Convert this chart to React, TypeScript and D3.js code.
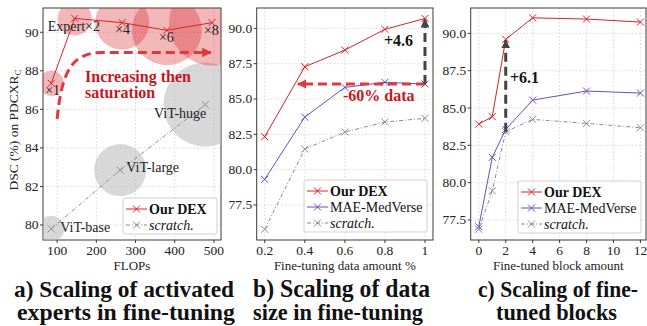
import React from 'react'
import * as d3 from 'd3'

// a) activated experts
const dexFlops = [85, 145, 266, 380, 495]
const dexFlopsDsc = [87.35, 90.72, 90.5, 90.1, 90.5]
const dexBubble = [160, 290, 730, 1220, 1850]
const expertLabels = ['×1', 'Expert×2', '×4', '×6', '×8']
const scratchFlops = [85, 261, 478]
const scratchFlopsDsc = [79.8, 82.85, 86.25]
const scratchBubble = [170, 680, 1760]
const vitLabels = ['ViT-base', 'ViT-large', 'ViT-huge']

// b) data amount
const dataAmount = [0.2, 0.4, 0.6, 0.8, 1]
const dexData = [82.33, 87.28, 88.46, 89.93, 90.7]
const maeData = [79.31, 83.72, 85.82, 86.18, 86.06]
const scratchData = [75.77, 81.46, 82.66, 83.37, 83.63]

// c) fine-tuned blocks
const blocks = [0, 1, 2, 4, 8, 12]
const dexBlocks = [83.92, 84.42, 89.6, 91.04, 90.96, 90.76]
const maeBlocks = [77.05, 81.7, 83.57, 85.53, 86.14, 86.0]
const scratchBlocks = [76.87, 79.46, 83.41, 84.24, 83.97, 83.68]

const ticksAx = [100, 200, 300, 400, 500]
const ticksAy = [80, 82, 84, 86, 88, 90]
const ticksBx = [0.2, 0.4, 0.6, 0.8, 1]
const ticksBy = [77.5, 80, 82.5, 85, 87.5, 90]
const ticksCx = [0, 2, 4, 6, 8, 10, 12]
const ticksCy = [77.5, 80, 82.5, 85, 87.5, 90]

const RED = '#d8232a'
const PURPLE = '#6a4cc4'
const GRAY = '#8c8c8c'
const FONT = '"Liberation Serif", "Times New Roman", serif'

const TOP = 8
const BOTTOM = 240

const xA = d3.scaleLinear().domain([64, 518]).range([43, 221])
const yA = d3.scaleLinear().domain([79.22, 91.26]).range([BOTTOM, TOP])
const xB = d3.scaleLinear().domain([0.16, 1.04]).range([256.7, 433])
const yB = d3.scaleLinear().domain([75.02, 91.44]).range([BOTTOM, TOP])
const xC = d3.scaleLinear().domain([-0.6, 12.6]).range([470.7, 648.5])
const yC = d3.scaleLinear().domain([76.16, 91.7]).range([BOTTOM, TOP])

const rA = d3.scaleSqrt().domain([0, 1850]).range([0, 43])

function Cross({ x, y, color }: { x: number; y: number; color: string }) {
  const s = 3.5
  return (
    <g stroke={color} strokeWidth={1}>
      <line x1={x - s} y1={y - s} x2={x + s} y2={y + s} />
      <line x1={x - s} y1={y + s} x2={x + s} y2={y - s} />
    </g>
  )
}

function Series({ xs, ys, x, y, color, dash }: any) {
  const pts: [number, number][] = xs.map((d: number, i: number) => [x(d), y(ys[i])])
  const path = d3.line()(pts) || ''
  return (
    <g>
      <path d={path} fill="none" stroke={color} strokeWidth={1} strokeDasharray={dash} />
      {pts.map((p, i) => <Cross key={i} x={p[0]} y={p[1]} color={color} />)}
    </g>
  )
}

function Axes({ x, y, xt, yt, xfmt, yfmt, xlabel, right }: any) {
  const [x0, x1r] = x.range()
  const x1 = Math.min(x1r, right || x1r)
  return (
    <g fontFamily={FONT} fontSize={13.5} fill="#222">
      {xt.map((t: number) => (
        <line key={'gx' + t} x1={x(t)} x2={x(t)} y1={TOP} y2={BOTTOM} stroke="#cfcfcf" strokeWidth={0.8} strokeDasharray="1.5,2" />
      ))}
      {yt.map((t: number) => (
        <line key={'gy' + t} x1={x0} x2={x1} y1={y(t)} y2={y(t)} stroke="#cfcfcf" strokeWidth={0.8} strokeDasharray="1.5,2" />
      ))}
      <rect x={x0} y={TOP} width={x1 - x0} height={BOTTOM - TOP} fill="none" stroke="#3a3a3a" strokeWidth={1} />
      {xt.map((t: number) => (
        <g key={'tx' + t}>
          <line x1={x(t)} x2={x(t)} y1={BOTTOM} y2={BOTTOM + 3} stroke="#3a3a3a" />
          <text x={x(t)} y={BOTTOM + 15} textAnchor="middle">{xfmt(t)}</text>
        </g>
      ))}
      {yt.map((t: number) => (
        <g key={'ty' + t}>
          <line x1={x0 - 3} x2={x0} y1={y(t)} y2={y(t)} stroke="#3a3a3a" />
          <text x={x0 - 4.5} y={y(t) + 4.5} textAnchor="end">{yfmt(t)}</text>
        </g>
      ))}
      <text x={(x0 + x1) / 2} y={BOTTOM + 30} textAnchor="middle" fontSize={13}>{xlabel}</text>
    </g>
  )
}

function Legend({ x, y, w, rows }: any) {
  const h = rows.length * 16 + 4
  return (
    <g fontFamily={FONT} fontSize={14}>
      <rect x={x} y={y} width={w} height={h} fill="#fff" fillOpacity={0.85} stroke="#d0d0d0" rx={2} />
      {rows.map((r: any, i: number) => {
        const cy = y + 11 + i * 16
        return (
          <g key={i}>
            <line x1={x + 3} x2={x + 24} y1={cy} y2={cy} stroke={r.color} strokeDasharray={r.dash} />
            <Cross x={x + 13.5} y={cy} color={r.color} />
            <text x={x + 26} y={cy + 4.5} fontWeight={r.bold ? 'bold' : 'normal'} fontStyle={r.italic ? 'italic' : 'normal'} fill="#111">{r.label}</text>
          </g>
        )
      })}
    </g>
  )
}

// captions are tall and narrow in the reference: stretch vertically a little
function Caption({ lines, xs, sizes, widths }: any) {
  const k = 1.06
  return (
    <text transform={`translate(0,296.5) scale(1,${k})`} fontFamily={FONT} fontWeight="bold" fill="#111">
      {lines.map((l: string, i: number) => (
        <tspan key={i} x={xs[i]} y={(i * 24) / k} fontSize={sizes[i]} textLength={widths[i]} lengthAdjust="spacingAndGlyphs">{l}</tspan>
      ))}
    </text>
  )
}

const dexRow = { label: 'Our DEX', color: RED, bold: true }
const maeRow = { label: 'MAE-MedVerse', color: PURPLE }
const scrRow = { label: 'scratch.', color: GRAY, dash: '4,2,1,2', italic: true }

const expertOffsets = [[-6, 12], [-27, 13], [-7, 11], [-8, 12], [-8, 12]]
const vitOffsets = [[9, 3, 'start'], [6, 2, 'start'], [1, 13, 'end']]

export default function App() {
  const fmt1 = (d: number) => d.toFixed(1)
  const fmtInt = (d: number) => String(d)
  return (
    <svg width={647} height={326} style={{ position: 'absolute', left: 0, top: 0, background: '#fff' }}>
      <defs>
        <clipPath id="clipA"><rect x={43} y={TOP} width={178} height={BOTTOM - TOP} /></clipPath>
        <marker id="headRed" viewBox="0 0 10 10" refX={9} refY={5} markerWidth={3.2} markerHeight={3.2} orient="auto" markerUnits="strokeWidth">
          <path d="M0,0 L10,5 L0,10 z" fill="#dd3b3b" />
        </marker>
        <marker id="headGray" viewBox="0 0 10 10" refX={9} refY={5} markerWidth={3} markerHeight={3} orient="auto" markerUnits="strokeWidth">
          <path d="M0,0 L10,5 L0,10 z" fill="#444" />
        </marker>
      </defs>

      {/* panel a */}
      <Axes x={xA} y={yA} xt={ticksAx} yt={ticksAy} xfmt={fmtInt} yfmt={fmtInt} xlabel="FLOPs" />
      <g clipPath="url(#clipA)">
        {scratchFlops.map((d, i) => (
          <circle key={'sb' + i} cx={xA(d)} cy={yA(scratchFlopsDsc[i])} r={rA(scratchBubble[i])} fill="#b8b8b8" fillOpacity={0.55} />
        ))}
        {dexFlops.map((d, i) => (
          <circle key={'db' + i} cx={xA(d)} cy={yA(dexFlopsDsc[i])} r={rA(dexBubble[i])} fill={RED} fillOpacity={0.33} />
        ))}
        <Series xs={scratchFlops} ys={scratchFlopsDsc} x={xA} y={yA} color={GRAY} dash="4,2,1,2" />
        <Series xs={dexFlops} ys={dexFlopsDsc} x={xA} y={yA} color={RED} />
        <path
          d={`M${xA(100)},${yA(85.5)} C${xA(112)},${yA(87.9)} ${xA(135)},${yA(88.95)} ${xA(215)},${yA(88.95)} L${xA(492)},${yA(88.95)}`}
          fill="none" stroke="#dd3b3b" strokeWidth={3} strokeDasharray="9,5" markerEnd="url(#headRed)"
        />
      </g>
      <g fontFamily={FONT} fontSize={14} fill="#222">
        {dexFlops.map((d, i) => (
          <text key={'el' + i} x={xA(d) + expertOffsets[i][0]} y={yA(dexFlopsDsc[i]) + expertOffsets[i][1]}>{expertLabels[i]}</text>
        ))}
        {scratchFlops.map((d, i) => (
          <text key={'vl' + i} x={xA(d) + (vitOffsets[i][0] as number)} y={yA(scratchFlopsDsc[i]) + (vitOffsets[i][1] as number)} textAnchor={vitOffsets[i][2] as string}>{vitLabels[i]}</text>
        ))}
      </g>
      <g fontFamily={FONT} fontSize={16} fontWeight="bold" fill="#c8161d">
        <text x={85} y={82}>Increasing then</text>
        <text x={85} y={98}>saturation</text>
      </g>
      <text transform="translate(18,130) rotate(-90)" textAnchor="middle" fontFamily={FONT} fontSize={13.5} fill="#222">
        DSC (%) on PDCXR<tspan fontSize={9} dy={3}>C</tspan>
      </text>
      <Legend x={123} y={198} w={94} rows={[dexRow, scrRow]} />

      {/* panel b */}
      <Axes x={xB} y={yB} xt={ticksBx} yt={ticksBy} xfmt={(d: number) => (d === 1 ? '1' : String(d))} yfmt={fmt1} xlabel="Fine-tuning data amount %" />
      <Series xs={dataAmount} ys={scratchData} x={xB} y={yB} color={GRAY} dash="4,2,1,2" />
      <Series xs={dataAmount} ys={maeData} x={xB} y={yB} color={PURPLE} />
      <Series xs={dataAmount} ys={dexData} x={xB} y={yB} color={RED} />
      <line x1={xB(1)} y1={yB(maeData[4])} x2={xB(0.365)} y2={yB(maeData[4])} stroke="#dd3b3b" strokeWidth={3} strokeDasharray="9,5" markerEnd="url(#headRed)" />
      <line x1={xB(1)} y1={yB(maeData[4])} x2={xB(1)} y2={yB(dexData[4]) + 1} stroke="#444" strokeWidth={3} strokeDasharray="9,5" markerEnd="url(#headGray)" />
      <text x={384} y={46} fontFamily={FONT} fontSize={16} fontWeight="bold" fill="#111">+4.6</text>
      <text x={343} y={101} fontFamily={FONT} fontSize={16} fontWeight="bold" fill="#c8161d">-60% data</text>
      <Legend x={304} y={180} w={123} rows={[dexRow, maeRow, scrRow]} />

      {/* panel c */}
      <Axes x={xC} y={yC} xt={ticksCx} yt={ticksCy} xfmt={fmtInt} yfmt={fmt1} xlabel="Fine-tuned block amount" right={646} />
      <Series xs={blocks} ys={scratchBlocks} x={xC} y={yC} color={GRAY} dash="4,2,1,2" />
      <Series xs={blocks} ys={maeBlocks} x={xC} y={yC} color={PURPLE} />
      <Series xs={blocks} ys={dexBlocks} x={xC} y={yC} color={RED} />
      <line x1={xC(2)} y1={yC(scratchBlocks[2])} x2={xC(2)} y2={yC(dexBlocks[2]) + 1} stroke="#444" strokeWidth={3} strokeDasharray="9,5" markerEnd="url(#headGray)" />
      <text x={510} y={83} fontFamily={FONT} fontSize={16} fontWeight="bold" fill="#111">+6.1</text>
      <Legend x={518} y={181} w={123} rows={[dexRow, maeRow, scrRow]} />

      <Caption lines={['a) Scaling of activated', 'experts in fine-tuning']} xs={[14, 17]} sizes={[22.3, 22.3]} widths={[220, 218]} />
      <Caption lines={['b) Scaling of data', 'size in fine-tuning']} xs={[253, 253]} sizes={[23, 22.3]} widths={[177, 170]} />
      <Caption lines={['c) Scaling of fine-', 'tuned blocks']} xs={[478, 496]} sizes={[21.7, 22]} widths={[160, 121]} />
    </svg>
  )
}
